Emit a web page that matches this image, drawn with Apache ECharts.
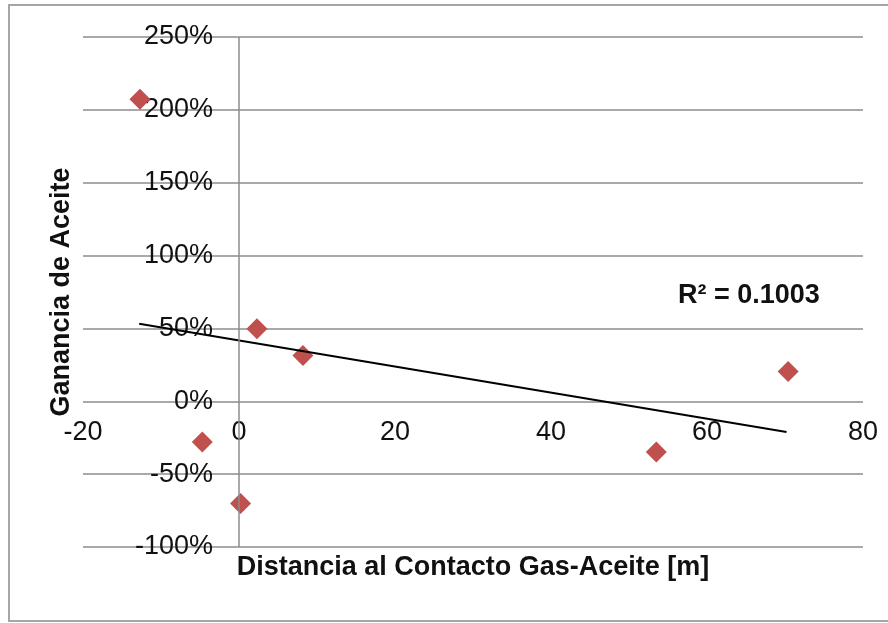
<!DOCTYPE html>
<html>
<head>
<meta charset="utf-8">
<script src="https://cdn.jsdelivr.net/npm/echarts@6/dist/echarts.min.js"></script>
<style>
  html, body { margin: 0; padding: 0; background: #fff; }
  #chart { width: 888px; height: 623px; }
</style>
</head>
<body>
<div id="chart"></div>
<script>
// datos
var distancia = [-12.7, -4.7, 0.2, 2.3, 8.2, 53.5, 70.4];   // m
var ganancia  = [207.3, -28.0, -70.2, 49.8, 31.4, -34.8, 20.5]; // %
// línea de tendencia (extremos)
var tendX = [-12.8, 70.2];
var tendY = [53.2, -21.1];
var r2Texto = 'R² = 0.1003';

var puntos = [];
for (var i = 0; i < distancia.length; i++) {
  puntos.push([distancia[i], ganancia[i]]);
}
var tendencia = [];
for (var j = 0; j < tendX.length; j++) {
  tendencia.push([tendX[j], tendY[j]]);
}

var fuente = '"Liberation Sans", Arial, sans-serif';
var gris = '#8c8c8c';

var myChart = echarts.init(document.getElementById('chart'));
var option = {
  animation: false,
  backgroundColor: '#fff',
  textStyle: { fontFamily: fuente },
  graphic: [
    { // borde del área del gráfico
      type: 'rect',
      shape: { x: 9, y: 5, width: 900, height: 616 },
      style: { fill: 'none', stroke: '#a6a6a6', lineWidth: 2 },
      silent: true
    },
    {
      type: 'text',
      left: 678,
      top: 282,
      style: {
        text: r2Texto,
        font: 'bold 27px ' + fuente,
        fill: '#111'
      }
    }
  ],
  grid: { left: 83, right: 25, top: 37, bottom: 76, containLabel: false, outerBoundsMode: 'none' },
  xAxis: {
    type: 'value',
    min: -20,
    max: 80,
    interval: 20,
    name: 'Distancia al Contacto Gas-Aceite [m]',
    nameLocation: 'middle',
    nameGap: 7,
    nameTextStyle: { fontSize: 27, fontWeight: 'bold', color: '#111', fontFamily: fuente },
    axisLine: { show: false, onZero: false },
    axisTick: { show: false },
    splitLine: { show: false },
    axisLabel: { fontSize: 27, color: '#111', margin: -128, fontFamily: fuente }
  },
  yAxis: {
    type: 'value',
    min: -100,
    max: 250,
    interval: 50,
    name: 'Ganancia de Aceite',
    nameLocation: 'middle',
    nameRotate: 90,
    nameGap: 6,
    nameTextStyle: { fontSize: 27, fontWeight: 'bold', color: '#111', fontFamily: fuente },
    axisLine: { show: false, onZero: false },
    axisTick: { show: false },
    splitLine: { show: true, lineStyle: { color: gris, width: 1.5 } },
    axisLabel: {
      fontSize: 27,
      color: '#111',
      margin: -130,
      fontFamily: fuente,
      formatter: function (v) { return v + '%'; }
    }
  },
  series: [
    {
      name: 'Ganancia',
      type: 'scatter',
      data: puntos,
      symbol: 'diamond',
      symbolSize: 21,
      itemStyle: { color: '#C0504D', opacity: 1 },
      z: 2,
      markLine: { // eje vertical en x = 0
        silent: true,
        symbol: 'none',
        label: { show: false },
        lineStyle: { color: gris, width: 1.5, type: 'solid' },
        data: [{ xAxis: 0 }]
      }
    },
    {
      name: 'Tendencia',
      type: 'line',
      data: tendencia,
      showSymbol: false,
      symbol: 'none',
      lineStyle: { color: '#000', width: 2 },
      z: 3
    }
  ]
};
myChart.setOption(option);
</script>
</body>
</html>
